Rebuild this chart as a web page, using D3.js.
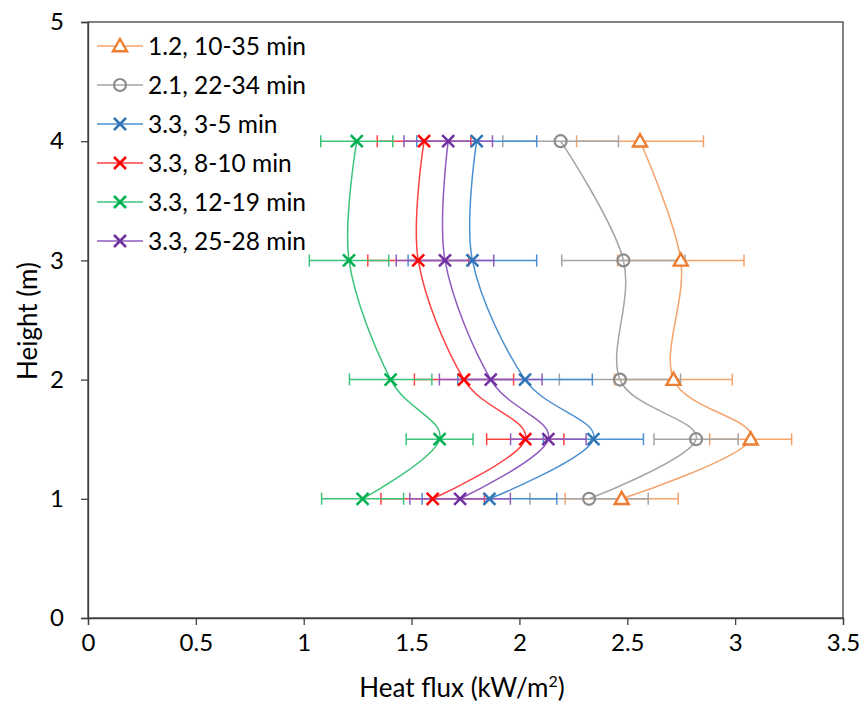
<!DOCTYPE html>
<html><head><meta charset="utf-8">
<script src="https://cdn.jsdelivr.net/npm/d3@7"></script>
<style>body{margin:0;background:#fff}svg{display:block}</style>
</head><body>
<svg id="c" width="863" height="709"></svg>
<script>
const heights = [1, 1.5, 2, 3, 4];
const seriesNames = ["1.2, 10-35 min","2.1, 22-34 min","3.3, 3-5 min","3.3, 8-10 min","3.3, 12-19 min","3.3, 25-28 min"];
const flux1 = [2.474, 3.072, 2.714, 2.748, 2.559];
const err1  = [0.262, 0.190, 0.273, 0.293, 0.294];
const flux2 = [2.323, 2.819, 2.466, 2.482, 2.191];
const err2  = [0.274, 0.195, 0.281, 0.286, 0.268];
const flux3 = [1.861, 2.343, 2.026, 1.782, 1.802];
const err3  = [0.312, 0.232, 0.312, 0.298, 0.278];
const flux4 = [1.598, 2.027, 1.743, 1.531, 1.558];
const err4  = [0.240, 0.179, 0.230, 0.234, 0.217];
const flux5 = [1.273, 1.630, 1.403, 1.210, 1.246];
const err5  = [0.190, 0.155, 0.191, 0.184, 0.167];
const flux6 = [1.725, 2.134, 1.867, 1.655, 1.670];
const err6  = [0.233, 0.175, 0.238, 0.226, 0.205];
const xTicks = [0, 0.5, 1, 1.5, 2, 2.5, 3, 3.5];
const yTicks = [0, 1, 2, 3, 4, 5];

const colors = ["#ED7D31","#8C8C8C","#2E75B6","#FF0000","#00B050","#7030A0"];
const lineColors = ["#F4A36A","#A5A5A5","#4A8FD0","#FF4040","#3CC47A","#8E5BBE"];
const markers = ["tri","circle","x","x","x","x"];
const fluxes = [flux1,flux2,flux3,flux4,flux5,flux6];
const errs = [err1,err2,err3,err4,err5,err6];

const svg = d3.select("#c");
const font = "Lato, 'Open Sans', sans-serif";
const x = d3.scaleLinear().domain([0,3.5]).range([88,843]);
const y = d3.scaleLinear().domain([0,5]).range([618,22]);

// frame
svg.append("rect").attr("x",88).attr("y",22).attr("width",755).attr("height",596)
  .attr("fill","none").attr("stroke","#404040").attr("stroke-width",1.3);

const xa = svg.append("g").attr("transform","translate(0,618)")
  .call(d3.axisBottom(x).tickValues(xTicks).tickSize(7).tickPadding(9).tickFormat(d=>String(d)));
const ya = svg.append("g").attr("transform","translate(88,0)")
  .call(d3.axisLeft(y).tickValues(yTicks).tickSize(7).tickPadding(17).tickFormat(d=>String(d)));
[xa,ya].forEach(g=>{
  g.select(".domain").attr("stroke","#404040").attr("stroke-width",1.3);
  g.selectAll(".tick line").attr("stroke","#404040").attr("stroke-width",1.3);
  g.selectAll("text").attr("font-family",font).attr("font-size",24).attr("fill","#000");
});

svg.append("text").attr("x",462).attr("y",697).attr("text-anchor","middle")
  .attr("font-family",font).attr("font-size",26).attr("fill","#000")
  .html('Heat flux (kW/m<tspan dy="-10" font-size="16">2</tspan><tspan dy="10">)</tspan>');
svg.append("text").attr("transform","translate(37,321) rotate(-90)").attr("text-anchor","middle")
  .attr("font-family",font).attr("font-size",26).attr("fill","#000").text("Height (m)");

function drawMarker(g, type, cx, cy, col){
  if(type==="x"){
    const s=6;
    g.append("path").attr("d",`M${cx-s},${cy-s}L${cx+s},${cy+s}M${cx-s},${cy+s}L${cx+s},${cy-s}`)
      .attr("stroke",col).attr("stroke-width",2.5).attr("fill","none");
  } else if(type==="circle"){
    g.append("circle").attr("cx",cx).attr("cy",cy).attr("r",6)
      .attr("stroke",col).attr("stroke-width",2.2).attr("fill","none");
  } else {
    const s=7;
    g.append("path").attr("d",`M${cx},${cy-s}L${cx+s},${cy+s*0.75}L${cx-s},${cy+s*0.75}Z`)
      .attr("stroke",col).attr("stroke-width",2.4).attr("fill","#fff");
  }
}

const line = d3.line().x(d=>x(d[0])).y(d=>y(d[1])).curve(d3.curveCardinal.tension(0));

fluxes.forEach((f,i)=>{
  const g = svg.append("g");
  f.forEach((v,j)=>{
    const cy = y(heights[j]), x0=x(v-errs[i][j]), x1=x(v+errs[i][j]);
    g.append("path").attr("d",`M${x0},${cy}L${x1},${cy}M${x0},${cy-6}L${x0},${cy+6}M${x1},${cy-6}L${x1},${cy+6}`)
      .attr("stroke",lineColors[i]).attr("stroke-width",1.5).attr("fill","none");
  });
});
fluxes.forEach((f,i)=>{
  svg.append("path").datum(f.map((v,j)=>[v,heights[j]])).attr("d",line)
    .attr("fill","none").attr("stroke",lineColors[i]).attr("stroke-width",1.5);
});
fluxes.forEach((f,i)=>{
  const g = svg.append("g");
  f.forEach((v,j)=>drawMarker(g, markers[i], x(v), y(heights[j]), colors[i]));
});

// legend
const legY = [46, 85, 124, 163, 202, 241];
seriesNames.forEach((n,i)=>{
  const g = svg.append("g");
  g.append("line").attr("x1",97).attr("x2",143).attr("y1",legY[i]).attr("y2",legY[i])
    .attr("stroke",lineColors[i]).attr("stroke-width",1.5);
  drawMarker(g, markers[i], 120, legY[i], colors[i]);
  g.append("text").attr("x",148).attr("y",legY[i]).attr("dy","0.36em")
    .attr("font-family",font).attr("font-size",24.5).attr("fill","#000").text(n);
});
</script>
</body></html>
